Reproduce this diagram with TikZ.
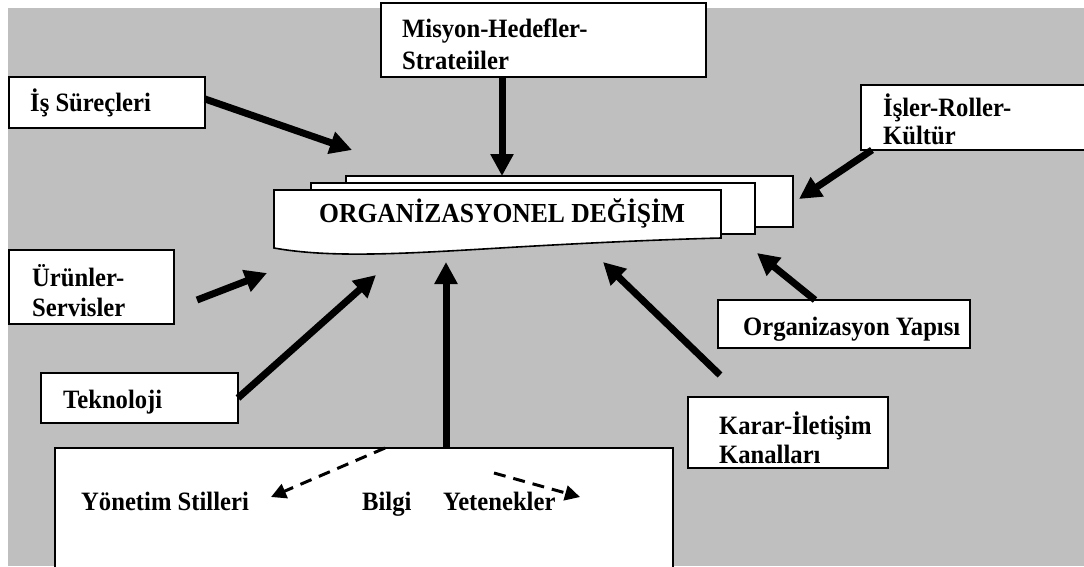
\documentclass[tikz,border=0pt]{standalone}
\usepackage{fontspec}
\setmainfont[FakeStretch=0.93]{Liberation Serif}
\usetikzlibrary{arrows.meta,calc}

\begin{document}
\begin{tikzpicture}[x=1pt,y=-1pt,
  lbl/.style={font=\fontsize{26.5}{30}\selectfont\bfseries, inner sep=0pt, anchor=base west},
  box/.style={draw=black, line width=1.6pt, fill=white, anchor=north west,
              inner sep=0pt, outer sep=0pt},
  page/.style={draw=black, line width=1.6pt, fill=white},
  bigarrow/.style={line width=7pt, -{Triangle[length=22pt,width=22pt]}},
  dasharrow/.style={line width=3pt, dash pattern=on 12pt off 8pt,
                    -{Triangle[length=15pt,width=15pt]}}]

\clip (0,0) rectangle (1084,566);
\fill[white] (0,0) rectangle (1084,566);
\fill[black!25] (8,8) rectangle (1084,566);

% outer boxes
\node[box, minimum width=325pt, minimum height=74pt] (misyon) at (381,3) {};
\node[box, minimum width=196pt, minimum height=51pt] (is) at (9,77) {};
\node[box, minimum width=240pt, minimum height=65pt] (isler) at (861,85) {};
\node[box, minimum width=165pt, minimum height=74pt] (urun) at (9,250) {};
\node[box, minimum width=197pt, minimum height=50pt] (tek) at (41,373) {};
\node[box, minimum width=252pt, minimum height=48pt] (org) at (718,300) {};
\node[box, minimum width=200pt, minimum height=71pt] (karar) at (688,397) {};
\node[box, minimum width=618pt, minimum height=140pt] (bot) at (55,448) {};

% box texts
\node[lbl] (misyonA) at (402,37) {Misyon-Hedefler-};
\node[lbl] (misyonB) at (402,69) {Strateiiler};
\node[lbl] (isA) at (30,111) {İş Süreçleri};
\node[lbl] (islerA) at (883,116) {İşler-Roller-};
\node[lbl] (islerB) at (883,144) {Kültür};
\node[lbl] (urunA) at (32,286) {Ürünler-};
\node[lbl] (urunB) at (32,316) {Servisler};
\node[lbl] (tekA) at (63,408) {Teknoloji};
\node[lbl] (orgA) at (743,335) {Organizasyon Yapısı};
\node[lbl] (kararA) at (719,434) {Karar-İletişim};
\node[lbl] (kararB) at (719,463) {Kanalları};

% stacked pages of the central document
\draw[page] (346,176) rectangle (793,227);
\draw[page] (311,183) rectangle (755,234);
\draw[page] (274,190) -- (721,190) -- (721,238)
  .. controls (680,239) and (600,242) .. (500,248)
  .. controls (400,254) and (330,258) .. (274,248) -- cycle;
\node[lbl, font=\fontsize{27.5}{30}\selectfont\bfseries] (degisim) at (319,222) {ORGANİZASYONEL DEĞİŞİM};

% texts in the bottom box
\node[lbl] (yonetim) at (81,510) {Yönetim Stilleri};
\node[lbl] (bilgi) at (362,510) {Bilgi};
\node[lbl] (yetenek) at (443,510) {Yetenekler};

% arrow end points
\coordinate (isT) at (352,150);
\coordinate (mT) at (502,176);
\coordinate (iT) at (799,199);
\coordinate (uS) at (197,300);
\coordinate (uT) at (267,273);
\coordinate (tT) at (376,275);
\coordinate (vT) at (446,262);
\coordinate (oT) at (757,253);
\coordinate (kS) at (720,375);
\coordinate (kT) at (603,262);
\coordinate (d1T) at (271,497);
\coordinate (d2S) at (494,473);
\coordinate (d2T) at (580,497);

\draw[bigarrow] ($(is.north east)+(0,22)$) -- (isT);
\draw[bigarrow] (misyon.south -| mT) -- (mT);
\draw[bigarrow] ($(isler.south west)+(11,0)$) -- (iT);
\draw[bigarrow] (uS) -- (uT);
\draw[bigarrow] (tek.east) -- (tT);
\draw[bigarrow] (bot.north -| vT) -- (vT);
\draw[bigarrow] ($(org.north west)+(97,0)$) -- (oT);
\draw[bigarrow] (kS) -- (kT);
\draw[dasharrow] ($(bot.north west)+(330,0)$) -- (d1T);
\draw[dasharrow] (d2S) -- (d2T);
\end{tikzpicture}
\end{document}
